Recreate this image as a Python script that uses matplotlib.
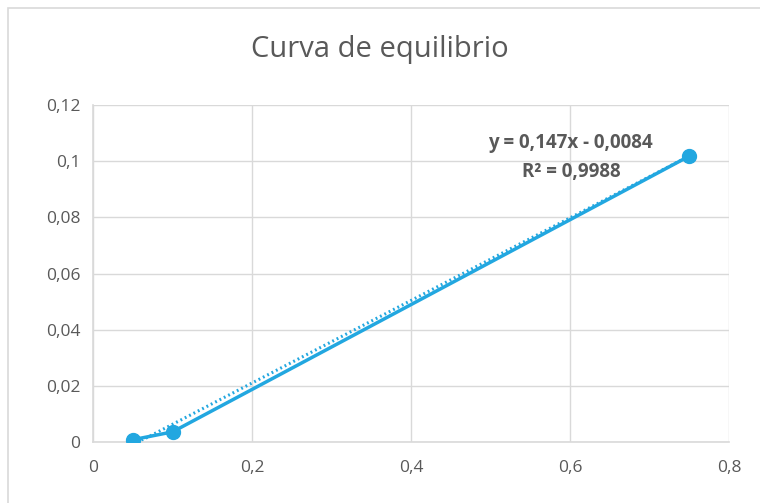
import matplotlib
matplotlib.use("Agg")
import matplotlib.pyplot as plt
import matplotlib.ticker as mticker
from matplotlib.patches import Rectangle
import numpy as np

# data
x_vals = [0.05, 0.10, 0.75]
y_vals = [0.0008, 0.0036, 0.1018]
slope = 0.147
intercept = -0.0084
r2 = 0.9988
x_ticks = [0, 0.2, 0.4, 0.6, 0.8]
y_ticks = [0, 0.02, 0.04, 0.06, 0.08, 0.10, 0.12]

plt.rcParams['font.family'] = ['Open Sans', 'DejaVu Sans']

blue = "#22a7e0"
grey_txt = "#595959"
grid_c = "#d9d9d9"

fig = plt.figure(figsize=(7.6, 5.03), dpi=100)
ax = fig.add_axes([93/760, 1 - 442/503, (729 - 93)/760, (442 - 105)/503])

# chart frame
fig.patches.append(Rectangle((8/760, -0.1), 1.2, 1 - 8/503 + 0.1, transform=fig.transFigure,
                             fill=False, edgecolor=grid_c, linewidth=1.2))

ax.plot(x_vals, y_vals, color=blue, linewidth=2.5, marker='o', markersize=10, zorder=3)

# linear trendline
tx = np.array([min(x_vals), max(x_vals)])
ax.plot(tx, slope * tx + intercept, color=blue, linewidth=2.2, linestyle=(0, (0.6, 1.0)), zorder=2)

ax.set_xlim(0, 0.8)
ax.set_ylim(0, 0.12)
ax.set_xticks(x_ticks)
ax.set_yticks(y_ticks)

fmt = mticker.FuncFormatter(lambda v, p: ("%g" % round(v, 4)).replace('.', ','))
ax.xaxis.set_major_formatter(fmt)
ax.yaxis.set_major_formatter(fmt)

ax.grid(True, color=grid_c, linewidth=1)
ax.set_axisbelow(True)
for s in ['top', 'right']:
    ax.spines[s].set_visible(False)
for s in ['left', 'bottom']:
    ax.spines[s].set_color(grid_c)
    ax.spines[s].set_linewidth(1.2)
ax.tick_params(length=0, colors=grey_txt, labelsize=12.5)
ax.tick_params(axis='y', pad=9)
ax.tick_params(axis='x', pad=13)

fig.text(0.5, 1 - 50/503, "Curva de equilibrio", ha='center', va='center',
         fontsize=21, color=grey_txt)

eq = "y = %sx - %s" % (("%g" % slope).replace('.', ','), ("%g" % -intercept).replace('.', ','))
ax.text(0.6, 0.1065, eq, ha='center', va='center', fontsize=13.5,
        fontweight='bold', color=grey_txt)
ax.text(0.602, 0.0961, "R² = " + ("%g" % r2).replace('.', ','), ha='center', va='center',
        fontsize=13.5, fontweight='bold', color=grey_txt)

fig.savefig("out.png", dpi=100, facecolor='white')
